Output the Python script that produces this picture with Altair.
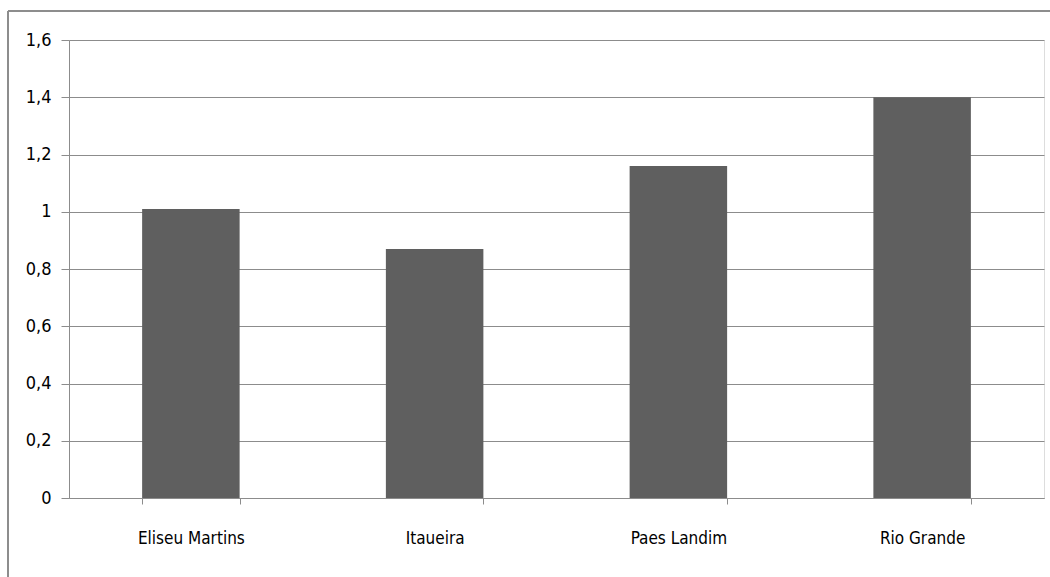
import altair as alt
import pandas as pd

municipios = ["Eliseu Martins", "Itaueira", "Paes Landim", "Rio Grande"]
valores = [1.01, 0.87, 1.16, 1.40]
y_ticks = [0, 0.2, 0.4, 0.6, 0.8, 1.0, 1.2, 1.4, 1.6]

df = pd.DataFrame({"municipio": municipios, "valor": valores})

FONT = "DejaVu Sans Condensed, DejaVu Sans, sans-serif"

bars = alt.Chart(df).mark_bar(color="#5f5f5f").encode(
    x=alt.X(
        "municipio:N",
        sort=municipios,
        title=None,
        scale=alt.Scale(paddingInner=0.6, paddingOuter=0.3),
        axis=alt.Axis(
            labelAngle=0,
            labelFont=FONT,
            labelFontSize=17,
            labelColor="#000000",
            labelPadding=26,
            domainColor="#8c8c8c",
            tickColor="#8c8c8c",
            tickSize=6,
            tickBand="extent",
            grid=False,
        ),
    ),
    y=alt.Y(
        "valor:Q",
        title=None,
        scale=alt.Scale(domain=[0, 1.6], nice=False),
        axis=alt.Axis(
            values=y_ticks,
            labelExpr="replace(format(datum.value, '~g'), '.', ',')",
            labelFont=FONT,
            labelFontSize=18,
            labelColor="#000000",
            labelPadding=10,
            domainColor="#8c8c8c",
            tickColor="#8c8c8c",
            tickSize=8,
            gridColor="#8c8c8c",
            gridOpacity=1,
        ),
    ),
)

# frame around the chart area
frame_left = alt.Chart(df).mark_rule(color="#8c8c8c", strokeWidth=1.5).encode(
    x=alt.value(-61), y=alt.value(-29), y2=alt.value(600)
)
frame_top = alt.Chart(df).mark_rule(color="#8c8c8c", strokeWidth=1.5).encode(
    x=alt.value(-61), x2=alt.value(1100), y=alt.value(-29)
)

chart = (
    alt.layer(bars, frame_left, frame_top)
    .properties(
        width=975,
        height=458,
        autosize=alt.AutoSizeParams(type="none"),
        padding={"left": 69, "top": 40, "right": 6, "bottom": 79},
    )
    .configure_view(stroke=None)
    .configure(background="white")
)

chart.save("out.html", embed_options={"renderer": "svg", "actions": False})
